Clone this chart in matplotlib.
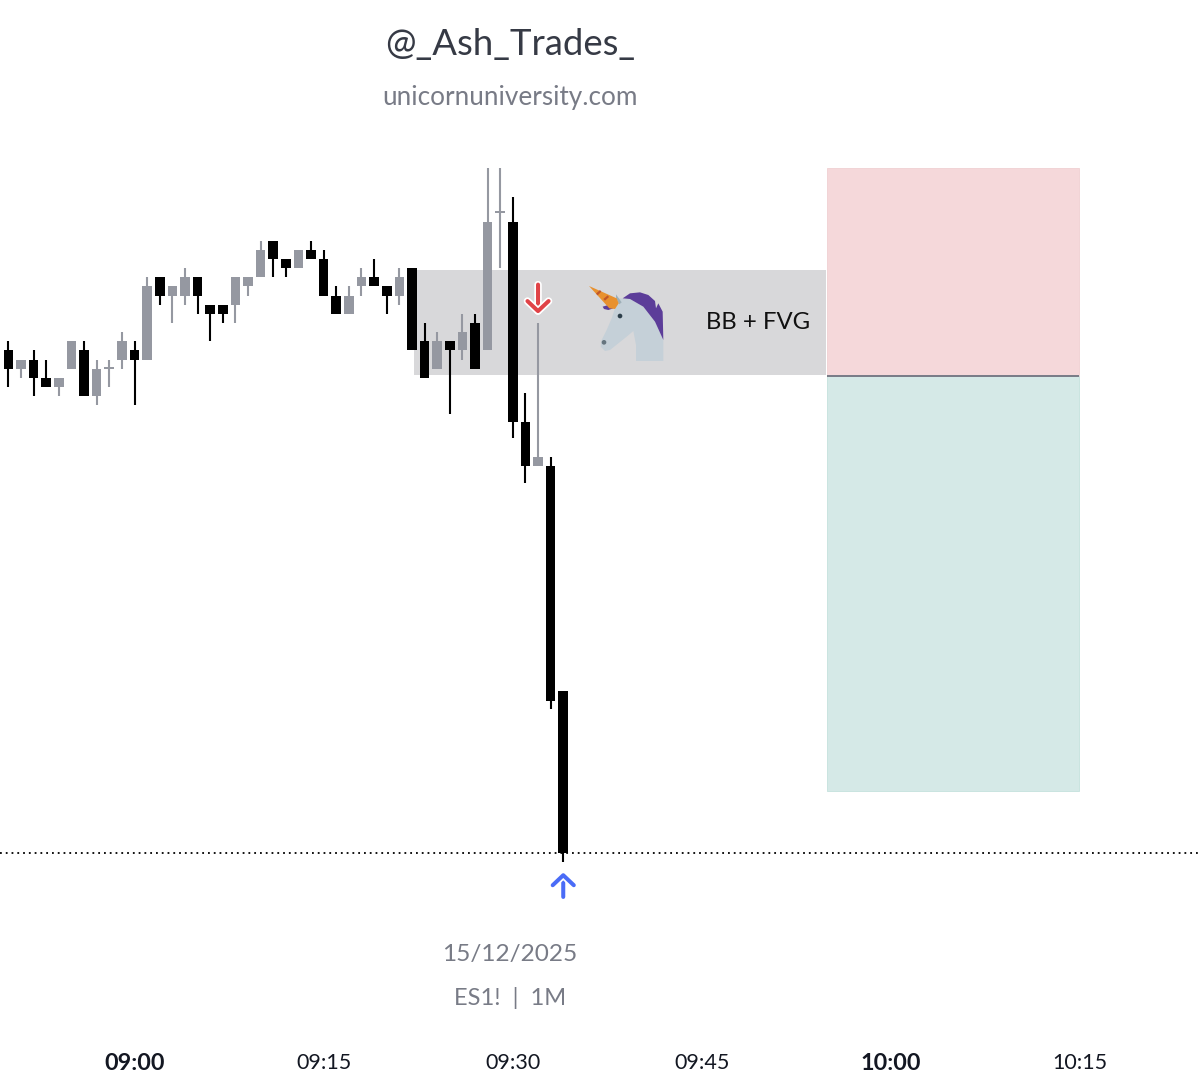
import numpy as np
import matplotlib
matplotlib.use("Agg")
import matplotlib.pyplot as plt
import matplotlib.patheffects as pe
from matplotlib.patches import Circle, Polygon, Rectangle
from matplotlib.transforms import Affine2D

plt.rcParams["font.family"] = ["Lato", "DejaVu Sans"]

# --- candles, minutes relative to 09:00 ---
minutes = list(range(-10, 35))
opens = [6794, 6793.5, 6793.75, 6793.25, 6793, 6793.5, 6794, 6792.75, 6793.5, 6793.75,
         6794, 6793.75, 6796, 6795.5, 6795.5, 6796, 6795.25, 6795.25, 6795.25, 6795.75,
         6796, 6797, 6796.5, 6796.25, 6796.75, 6796.5, 6795.5, 6795, 6795.75, 6796,
         6795.75, 6795.5, 6796.25, 6794.25, 6793.5, 6794.25, 6794, 6794.75, 6794, 6797.75,
         6797.5, 6792.05, 6790.85, 6790.85, 6784.69]
highs = [6794.25, 6793.75, 6794, 6793.75, 6793.25, 6794.25, 6794.25, 6793.75, 6793.75, 6794.5,
         6794.25, 6796, 6796, 6795.75, 6796.25, 6796, 6795.25, 6795.25, 6796, 6796,
         6797, 6797, 6796.5, 6796.75, 6797, 6796.75, 6795.75, 6795.75, 6796.25, 6796.5,
         6795.75, 6796.25, 6796.25, 6794.75, 6794.5, 6794.25, 6795, 6795, 6799, 6799,
         6798.2, 6792.83, 6794.75, 6791.08, 6784.69]
lows = [6793, 6793.25, 6792.75, 6793, 6792.75, 6793.5, 6792.75, 6792.5, 6793, 6793.5,
        6792.5, 6793.75, 6795.25, 6794.75, 6795.25, 6795, 6794.25, 6794.75, 6794.75, 6795.5,
        6796, 6796, 6796, 6796.25, 6796.5, 6795.5, 6795, 6795, 6795.5, 6795.75,
        6795, 6795.25, 6794, 6793.25, 6793.5, 6792.25, 6793.75, 6793.5, 6794, 6796.25,
        6791.6, 6790.37, 6790.85, 6784.18, 6780]
closes = [6793.5, 6793.75, 6793.25, 6793, 6793.25, 6794.25, 6792.75, 6793.5, 6793.5, 6794.25,
          6793.75, 6795.75, 6795.5, 6795.75, 6796, 6795.5, 6795, 6795, 6796, 6796,
          6796.75, 6796.5, 6796.25, 6796.75, 6796.5, 6795.5, 6795, 6795.5, 6796, 6795.75,
          6795.5, 6796, 6794, 6793.25, 6794.25, 6794, 6794.5, 6793.5, 6797.5, 6797.75,
          6792.05, 6790.85, 6791.08, 6784.42, 6780.25]

# --- time axis ---
tick_minutes = [0, 15, 30, 45, 60, 75]
tick_labels = ["09:00", "09:15", "09:30", "09:45", "10:00", "10:15"]
bold_ticks = ["09:00", "10:00"]

# --- zones and levels ---
zone_start, zone_end = 22.16, 54.85
zone_top, zone_bottom = 6796.2, 6793.33
trade_start, trade_end = 54.95, 74.9
stop_price, entry_price, target_price = 6799, 6793.3, 6781.95
low_level = 6780.25

UP = "#9598a1"
DOWN = "#000000"

fig = plt.figure(figsize=(12, 10.8), dpi=100)
ax = fig.add_axes([0, 35 / 1080, 1, 1045 / 1080])
ax.set_xlim(-10.667, 84.496)
ax.set_ylim(6775, 6803.585)
for side in ax.spines.values():
    side.set_visible(False)
ax.set_yticks([])

# BB + FVG zone and the long/short box
ax.add_patch(Rectangle((zone_start, zone_bottom), zone_end - zone_start, zone_top - zone_bottom,
                       facecolor="#d8d8da", edgecolor="none", zorder=1))
ax.add_patch(Rectangle((trade_start, entry_price), trade_end - trade_start, stop_price - entry_price,
                       facecolor="#f5d8da", edgecolor="#f0d0d2", linewidth=0.6, zorder=1))
ax.add_patch(Rectangle((trade_start, target_price), trade_end - trade_start, entry_price - target_price,
                       facecolor="#d5e9e7", edgecolor="#c4e2dd", linewidth=0.6, zorder=1))
ax.hlines(entry_price, trade_start, trade_end, color="#787b86", linewidth=1.4, zorder=2)

ax.axhline(low_level, color="black", linewidth=1.3, linestyle=(0, (1, 2.2)), zorder=1.5)

# candles
o = np.array(opens)
c = np.array(closes)
colors = [UP if b >= a else DOWN for a, b in zip(o, c)]
ax.vlines(minutes, lows, highs, colors=colors, linewidth=1.5, zorder=3)
heights = np.maximum(np.abs(c - o), 0.05)
ax.bar(minutes, heights, bottom=np.minimum(o, c), width=0.76, color=colors, linewidth=0, zorder=4)


def arrow(x, tail, tip, color):
    ax.annotate("", xy=(x, tip), xytext=(x, tail), zorder=6,
                arrowprops=dict(arrowstyle="->,head_length=0.36,head_width=0.38", color=color,
                                lw=2.9, mutation_scale=20, shrinkA=0, shrinkB=0,
                                path_effects=[pe.withStroke(linewidth=5.4, foreground="white")]))


arrow(32, 6795.8, 6795.0, "#e04347")
arrow(34, 6779.05, 6779.72, "#4a6cf7")

ax.text(49.45, 6794.75, "BB + FVG", fontsize=17.2, color="#111111", ha="center", va="center", zorder=6)

# unicorn glyph, outline taken from the 3x crop
to_px = Affine2D().scale(1 / 3).translate(580, 275)
to_fig = Affine2D().scale(1 / 1200, -1 / 1080).translate(0, 1)
glyph = to_px + to_fig + fig.transFigure
head = [(118, 70), (150, 72), (190, 95), (225, 140), (250, 195), (250, 258), (168, 258),
        (168, 210), (160, 168), (140, 185), (115, 205), (90, 225), (75, 228), (62, 215),
        (65, 195), (80, 165), (95, 130), (105, 100)]
mane = [(128, 70), (150, 55), (180, 52), (205, 60), (225, 78), (228, 100), (235, 85), (248, 110),
        (250, 195), (225, 140), (190, 95), (150, 72)]
tuft = [(68, 95), (85, 90), (100, 100), (85, 105), (72, 102)]
horn = [(27, 33), (110, 70), (116, 85), (105, 102), (88, 100)]
ear = [(108, 58), (125, 82), (118, 88), (108, 70)]
stripes = [[(48, 56), (60, 45), (64, 50), (53, 61)], [(70, 72), (83, 61), (87, 66), (75, 77)]]
for pts, col in [(head, "#c5d0d8"), (mane, "#5c3d99"), (tuft, "#5c3d99"), (ear, "#9fb0b8"), (horn, "#e8912f")]:
    ax.add_patch(Polygon(pts, closed=True, facecolor=col, edgecolor="none", transform=glyph, zorder=5))
for pts in stripes:
    ax.add_patch(Polygon(pts, closed=True, facecolor="#c0562a", edgecolor="none", transform=glyph, zorder=5))
ax.add_patch(Circle((120, 123), 7, facecolor="#2c3e4a", edgecolor="none", transform=glyph, zorder=5))
ax.add_patch(Circle((72, 202), 7, facecolor="#66757f", edgecolor="none", transform=glyph, zorder=5))

# axis labels
ax.set_xticks(tick_minutes)
ax.set_xticklabels(tick_labels, fontsize=15.5, color="#131722")
ax.tick_params(axis="x", length=0, pad=5.5)
for lab in ax.get_xticklabels():
    if lab.get_text() in bold_ticks:
        lab.set_fontweight("bold")
        lab.set_fontsize(16.8)

# header and footer notes
fig.text(510 / 1200, 1 - 44 / 1080, "@_Ash_Trades_", fontsize=26.3, color="#363a45", ha="center", va="center")
fig.text(510 / 1200, 1 - 97 / 1080, "unicornuniversity.com", fontsize=18.8, color="#787b86", ha="center", va="center")
fig.text(510 / 1200, 1 - 954 / 1080, "15/12/2025", fontsize=17.6, color="#787b86", ha="center", va="center")
fig.text(510 / 1200, 1 - 998 / 1080, "ES1!  |  1M", fontsize=17, color="#787b86", ha="center", va="center")

fig.savefig("out.png", dpi=100)
